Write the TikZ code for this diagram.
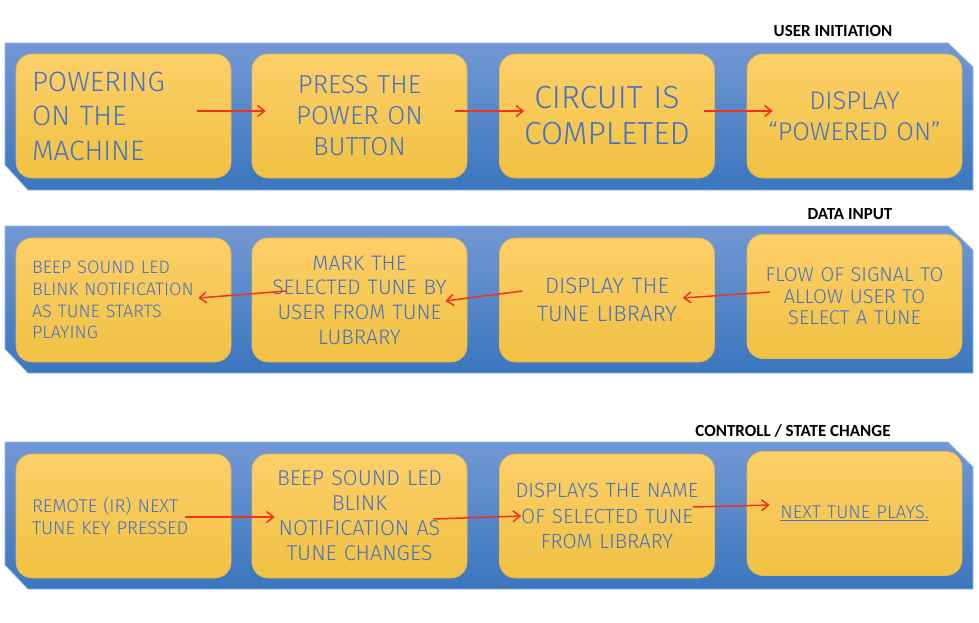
\documentclass[tikz,border=0pt]{standalone}
\usepackage{fontspec}
\usepackage{tikz}
\usetikzlibrary{arrows.meta}
\newfontfamily\boxfont{Fira Sans Light}
\newfontfamily\titlefont{Carlito}
\definecolor{bandtop}{RGB}{114,152,212}
\definecolor{bandbot}{RGB}{58,118,190}
\definecolor{bandedge}{RGB}{150,180,225}
\definecolor{boxtop}{RGB}{253,207,104}
\definecolor{boxbot}{RGB}{240,193,66}
\definecolor{boxedge}{RGB}{232,184,80}
\definecolor{inkblue}{RGB}{68,114,196}
\definecolor{flowred}{RGB}{240,50,30}
\newcommand\boxsize[2]{\boxfont\fontsize{#1}{#2}\selectfont}
\tikzset{
  band/.style={draw=bandedge, line width=0.8pt, top color=bandtop, bottom color=bandbot},
  tunebox/.style={draw=boxedge, line width=0.6pt, rounded corners=16pt, top color=boxtop, bottom color=boxbot, text=inkblue, text width=183pt, inner xsep=16pt, inner ysep=2pt, minimum width=215pt, minimum height=124pt, align=center},
  flow/.style={draw=flowred, line width=1.5pt, ->, >={Straight Barb[length=7pt,width=11pt]}},
  rowtitle/.style={font=\titlefont\bfseries\fontsize{17}{20}\selectfont, text=black}
}

\begin{document}
\begin{tikzpicture}[x=1pt,y=-1pt]
\useasboundingbox (0,0) rectangle (979,622);
% bands
\path[band] (5,43) -- (948,43) -- (973,67) -- (973,190) -- (28,190) -- (5,165) -- cycle;
\path[band] (5,226) -- (948,226) -- (973,250) -- (973,373) -- (28,373) -- (5,349) -- cycle;
\path[band] (5,442) -- (948,442) -- (973,467) -- (973,589) -- (28,589) -- (5,565) -- cycle;
% row titles
\node[rowtitle] (t1) at (833,31) {USER INITIATION};
\node[rowtitle] (t2) at (850,214) {DATA INPUT};
\node[rowtitle] (t3) at (793,431) {CONTROLL / STATE CHANGE};
% user initiation
\node[tunebox, align=left, font=\boxsize{28}{34.5}] (pow1) at (123.5,116) {POWERING\\ON THE\\MACHINE};
\node[tunebox, font=\boxsize{26}{31}] (pow2) at (359.5,116) {PRESS THE\\POWER ON\\BUTTON};
\node[tunebox, font=\boxsize{32}{36}] (pow3) at (607,116) {CIRCUIT IS\\COMPLETED};
\node[tunebox, font=\boxsize{25.5}{31}] (pow4) at (854.5,116) {DISPLAY\\“POWERED ON”};
% data input
\node[tunebox, align=left, font=\boxsize{18}{21.7}] (dat1) at (123.5,300) {BEEP SOUND LED\\BLINK NOTIFICATION\\AS TUNE STARTS\\PLAYING};
\node[tunebox, font=\boxsize{21}{24.7}] (dat2) at (359.5,300) {MARK THE\\SELECTED TUNE BY\\USER FROM TUNE\\LUBRARY};
\node[tunebox, font=\boxsize{22.3}{28}] (dat3) at (607,300) {DISPLAY THE\\TUNE LIBRARY};
\node[tunebox, font=\boxsize{20}{21.5}] (dat4) at (854.5,296.5) {FLOW OF SIGNAL TO\\ALLOW USER TO\\SELECT A TUNE};
% controll / state change
\node[tunebox, align=left, font=\boxsize{18.5}{22}] (ctl1) at (123.5,516) {REMOTE (IR) NEXT\\TUNE KEY PRESSED};
\node[tunebox, font=\boxsize{21.5}{25}] (ctl2) at (359.5,516) {BEEP SOUND LED\\BLINK\\NOTIFICATION AS\\TUNE CHANGES};
\node[tunebox, font=\boxsize{20.5}{25.5}] (ctl3) at (607,516) {DISPLAYS THE NAME\\OF SELECTED TUNE\\FROM LIBRARY};
\node[tunebox, font=\boxsize{18.5}{22}] (ctl4) at (854.5,513.5) {\underline{NEXT TUNE PLAYS.}};
% arrows
\draw[flow] ([xshift=-34pt,yshift=5pt]pow1.east) -- ([xshift=14pt,yshift=5pt]pow2.west);
\draw[flow] ([xshift=-12pt,yshift=5pt]pow2.east) -- ([xshift=25pt,yshift=5pt]pow3.west);
\draw[flow] ([xshift=-11pt,yshift=5pt]pow3.east) -- ([xshift=26pt,yshift=5pt]pow4.west);
\draw[flow] ([xshift=23pt,yshift=4.5pt]dat4.west) -- ([xshift=-32pt,yshift=2pt]dat3.east);
\draw[flow] ([xshift=23pt,yshift=9pt]dat3.west) -- ([xshift=-22pt,yshift=-1pt]dat2.east);
\draw[flow] ([xshift=35pt,yshift=9pt]dat2.west) -- ([xshift=-33pt,yshift=2pt]dat1.east);
\draw[flow] ([xshift=-46pt,yshift=-1pt]ctl1.east) -- ([xshift=23pt,yshift=-1pt]ctl2.west);
\draw[flow] ([xshift=-34pt,yshift=-3pt]ctl2.east) -- ([xshift=22pt]ctl3.west);
\draw[flow] ([xshift=-22pt,yshift=9pt]ctl3.east) -- ([xshift=23pt,yshift=8.5pt]ctl4.west);
\end{tikzpicture}
\end{document}
